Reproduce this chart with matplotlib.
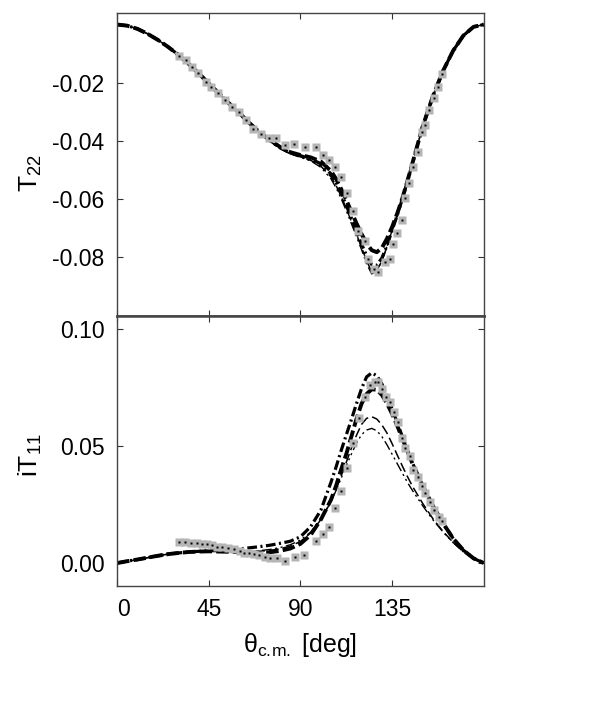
import matplotlib
matplotlib.use("Agg")
import matplotlib.pyplot as plt

plt.rcParams['font.family'] = ['Liberation Sans', 'DejaVu Sans']
plt.rcParams['mathtext.fontset'] = 'custom'
plt.rcParams['mathtext.rm'] = 'Liberation Sans'
plt.rcParams['mathtext.it'] = 'Liberation Sans:italic'
plt.rcParams['axes.unicode_minus'] = False
plt.rcParams['lines.scale_dashes'] = False

# angle grid for the calculated curves
theta = [0, 5, 10, 15, 20, 25, 30, 35, 40, 45, 50, 55, 60, 65, 70, 75, 80, 85, 90,
         95, 100, 105, 107.5, 110, 112.5, 115, 117.5, 120, 122.5, 125, 127.5, 130,
         132.5, 135, 137.5, 140, 142.5, 145, 150, 155, 160, 165, 170, 175, 180]

# T22 curves
t22_a = [0.0, -0.0004, -0.0015, -0.0032, -0.0053, -0.0077, -0.0104, -0.0135, -0.0168,
         -0.0203, -0.0238, -0.0272, -0.0305, -0.0340, -0.0372, -0.0398, -0.0422, -0.0440,
         -0.0450, -0.0458, -0.0472, -0.0505, -0.0532, -0.0567, -0.0605, -0.0645, -0.0685,
         -0.0722, -0.0755, -0.0778, -0.0785, -0.0770, -0.0738, -0.0698, -0.0652, -0.0600,
         -0.0540, -0.0478, -0.0352, -0.0248, -0.0160, -0.0090, -0.0038, -0.0008, 0.0]
t22_b = [0.0, -0.0004, -0.0015, -0.0032, -0.0053, -0.0077, -0.0104, -0.0135, -0.0168,
         -0.0203, -0.0238, -0.0272, -0.0305, -0.0340, -0.0372, -0.0400, -0.0425, -0.0442,
         -0.0452, -0.0463, -0.0480, -0.0515, -0.0545, -0.0582, -0.0623, -0.0667, -0.0712,
         -0.0757, -0.0797, -0.0828, -0.0830, -0.0805, -0.0762, -0.0710, -0.0658, -0.0602,
         -0.0541, -0.0479, -0.0352, -0.0248, -0.0160, -0.0090, -0.0038, -0.0008, 0.0]
t22_c = [0.0, -0.0004, -0.0015, -0.0032, -0.0053, -0.0077, -0.0104, -0.0135, -0.0168,
         -0.0203, -0.0238, -0.0272, -0.0305, -0.0340, -0.0372, -0.0402, -0.0428, -0.0446,
         -0.0456, -0.0468, -0.0488, -0.0525, -0.0555, -0.0592, -0.0634, -0.0678, -0.0723,
         -0.0768, -0.0815, -0.0852, -0.0848, -0.0815, -0.0766, -0.0712, -0.0660, -0.0604,
         -0.0542, -0.0480, -0.0352, -0.0248, -0.0160, -0.0090, -0.0038, -0.0008, 0.0]
t22_d = [0.0, -0.0004, -0.0015, -0.0032, -0.0053, -0.0077, -0.0104, -0.0135, -0.0168,
         -0.0203, -0.0238, -0.0272, -0.0305, -0.0340, -0.0372, -0.0402, -0.0428, -0.0446,
         -0.0458, -0.0470, -0.0492, -0.0532, -0.0563, -0.0600, -0.0642, -0.0686, -0.0731,
         -0.0776, -0.0825, -0.0860, -0.0850, -0.0815, -0.0765, -0.0710, -0.0658, -0.0602,
         -0.0541, -0.0479, -0.0352, -0.0248, -0.0160, -0.0090, -0.0038, -0.0008, 0.0]

# iT11 curves
it11_a = [0.0, 0.0008, 0.0015, 0.0023, 0.0031, 0.0038, 0.0043, 0.0047, 0.0049, 0.0050,
          0.0049, 0.0048, 0.0046, 0.0044, 0.0044, 0.0046, 0.0052, 0.0062, 0.0082, 0.0120,
          0.0185, 0.0270, 0.0330, 0.0400, 0.0465, 0.0540, 0.0615, 0.0680, 0.0722, 0.0742,
          0.0740, 0.0718, 0.0682, 0.0637, 0.0587, 0.0533, 0.0478, 0.0425, 0.0330, 0.0245,
          0.0170, 0.0105, 0.0055, 0.0020, 0.0]
it11_b = [0.0, 0.0008, 0.0015, 0.0023, 0.0031, 0.0038, 0.0043, 0.0047, 0.0050, 0.0052,
          0.0054, 0.0056, 0.0060, 0.0065, 0.0070, 0.0076, 0.0084, 0.0093, 0.0112, 0.0155,
          0.0225, 0.0345, 0.0410, 0.0480, 0.0547, 0.0612, 0.0680, 0.0745, 0.0795, 0.0812,
          0.0800, 0.0765, 0.0715, 0.0658, 0.0600, 0.0541, 0.0483, 0.0428, 0.0330, 0.0245,
          0.0170, 0.0105, 0.0055, 0.0020, 0.0]
it11_c = [0.0, 0.0008, 0.0015, 0.0023, 0.0031, 0.0038, 0.0043, 0.0047, 0.0049, 0.0050,
          0.0050, 0.0049, 0.0048, 0.0048, 0.0050, 0.0054, 0.0061, 0.0072, 0.0092, 0.0128,
          0.0185, 0.0262, 0.0315, 0.0372, 0.0430, 0.0490, 0.0545, 0.0592, 0.0618, 0.0625,
          0.0615, 0.0590, 0.0555, 0.0510, 0.0462, 0.0415, 0.0370, 0.0328, 0.0255, 0.0190,
          0.0135, 0.0088, 0.0048, 0.0018, 0.0]
it11_d = [0.0, 0.0008, 0.0015, 0.0023, 0.0031, 0.0038, 0.0043, 0.0047, 0.0049, 0.0050,
          0.0050, 0.0050, 0.0050, 0.0051, 0.0053, 0.0058, 0.0066, 0.0078, 0.0098, 0.0132,
          0.0190, 0.0262, 0.0310, 0.0362, 0.0415, 0.0465, 0.0512, 0.0548, 0.0568, 0.0575,
          0.0565, 0.0540, 0.0505, 0.0465, 0.0425, 0.0385, 0.0345, 0.0310, 0.0245, 0.0185,
          0.0133, 0.0087, 0.0048, 0.0018, 0.0]

# measured T22
t22_x = [30.5, 33.7, 36.7, 39.9, 43.5, 46.0, 49.6, 53.0, 56.6, 59.8, 63.1, 66.8, 70.7,
         74.5, 78.2, 82.6, 86.7, 92.2, 97.5, 101.0, 104.0, 106.8, 110.0, 112.8, 115.8,
         118.5, 121.5, 123.4, 125.9, 128.3, 131.5, 134.0, 135.6, 137.6, 139.7, 141.5,
         143.4, 145.4, 147.5, 149.5, 151.4, 153.2, 155.5, 157.6, 159.3]
t22_y = [-0.0107, -0.0122, -0.0145, -0.0168, -0.0197, -0.0214, -0.0237, -0.0260, -0.0285,
         -0.0300, -0.0329, -0.0360, -0.0377, -0.0391, -0.0391, -0.0414, -0.0413, -0.0423,
         -0.0423, -0.0450, -0.0466, -0.0490, -0.0527, -0.0582, -0.0642, -0.0711, -0.0745,
         -0.0808, -0.0843, -0.0854, -0.0820, -0.0808, -0.0757, -0.0720, -0.0674, -0.0598,
         -0.0546, -0.0490, -0.0440, -0.0371, -0.0348, -0.0294, -0.0254, -0.0214, -0.0172]

# measured iT11
it11_x = [30.5, 33.3, 36.2, 39.1, 41.9, 44.3, 46.8, 49.2, 51.7, 54.4, 57.4, 60.1, 62.3,
          64.7, 67.1, 69.9, 72.5, 75.3, 78.6, 82.3, 87.5, 91.8, 97.8, 100.9, 104.0, 106.9,
          109.9, 112.8, 115.7, 118.8, 121.8, 124.2, 126.7, 128.3, 130.0, 132.2, 134.0,
          136.0, 138.0, 139.7, 141.5, 143.6, 145.4, 147.5, 149.5, 151.4, 153.5, 155.7,
          157.8, 159.7]
it11_y = [0.0091, 0.0088, 0.0087, 0.0084, 0.0082, 0.0080, 0.0077, 0.0070, 0.0067, 0.0063,
          0.0058, 0.0053, 0.0044, 0.0041, 0.0038, 0.0034, 0.0027, 0.0023, 0.0020, 0.0010,
          0.0027, 0.0035, 0.0092, 0.0124, 0.0156, 0.0236, 0.0309, 0.0404, 0.0511, 0.0620,
          0.0710, 0.0760, 0.0774, 0.0774, 0.0745, 0.0709, 0.0687, 0.0646, 0.0603, 0.0533,
          0.0493, 0.0456, 0.0397, 0.0369, 0.0331, 0.0300, 0.0260, 0.0225, 0.0195, 0.0180]

curve_styles = [
    dict(lw=2.8, dashes=(9, 3)),
    dict(lw=2.3, dashes=(7, 2.5, 1.5, 2.5)),
    dict(lw=1.1, dashes=(7, 3)),
    dict(lw=1.0, dashes=(7, 2.5, 1.5, 2.5, 1.5, 2.5)),
]

fig = plt.figure(figsize=(6.1, 7.19), dpi=100)
ax1 = fig.add_axes([0.192, 0.5605, 0.601, 0.4215])
ax2 = fig.add_axes([0.192, 0.185, 0.601, 0.3755])

for ax, curves, mx, my in [(ax1, [t22_a, t22_b, t22_c, t22_d], t22_x, t22_y),
                           (ax2, [it11_a, it11_b, it11_c, it11_d], it11_x, it11_y)]:
    for ys, st in zip(curves, curve_styles):
        ax.plot(theta, ys, color='black', lw=st['lw'], dashes=st['dashes'],
                dash_capstyle='butt', zorder=2)
    ax.plot(mx, my, ls='none', marker='s', ms=6.3, mfc='#b5b5b5', mec='none', zorder=3)
    ax.plot(mx, my, ls='none', marker='s', ms=1.5, mfc='black', mec='none', zorder=4)
    ax.set_xlim(0, 180)
    ax.set_xticks([0, 45, 90, 135])
    ax.tick_params(direction='in', top=True, right=True, length=4.5, width=0.8,
                   labelsize=16.5, color='#333333', pad=9)
    for sp in ax.spines.values():
        sp.set_color('#444444')
        sp.set_linewidth(1.0)

ax1.set_ylim(-0.1005, 0.0040)
ax1.set_yticks([-0.02, -0.04, -0.06, -0.08])
ax1.set_yticklabels(['-0.02', '-0.04', '-0.06', '-0.08'])
ax1.tick_params(labelbottom=False)
ax1.spines['bottom'].set_linewidth(1.8)
ax1.set_ylabel(r'T$_\mathrm{22}$', fontsize=19)
ax1.yaxis.set_label_coords(-0.2, 0.47)

ax2.set_ylim(-0.0098, 0.1055)
ax2.set_yticks([0.0, 0.05, 0.10])
ax2.set_yticklabels(['0.00', '0.05', '0.10'])
ax2.set_xticklabels(['0', '45', '90', '135'])
ax2.get_xticklabels()[0].set_horizontalalignment('left')
ax2.spines['top'].set_linewidth(1.8)
ax2.set_ylabel(r'iT$_\mathrm{11}$', fontsize=19)
ax2.yaxis.set_label_coords(-0.2, 0.485)
ax2.set_xlabel(r'$\mathrm{\theta}_{\mathrm{c.\!m.}}$ [deg]', fontsize=18)
ax2.xaxis.set_label_coords(0.5, -0.165)

fig.savefig('out.png', dpi=100, facecolor='white')
